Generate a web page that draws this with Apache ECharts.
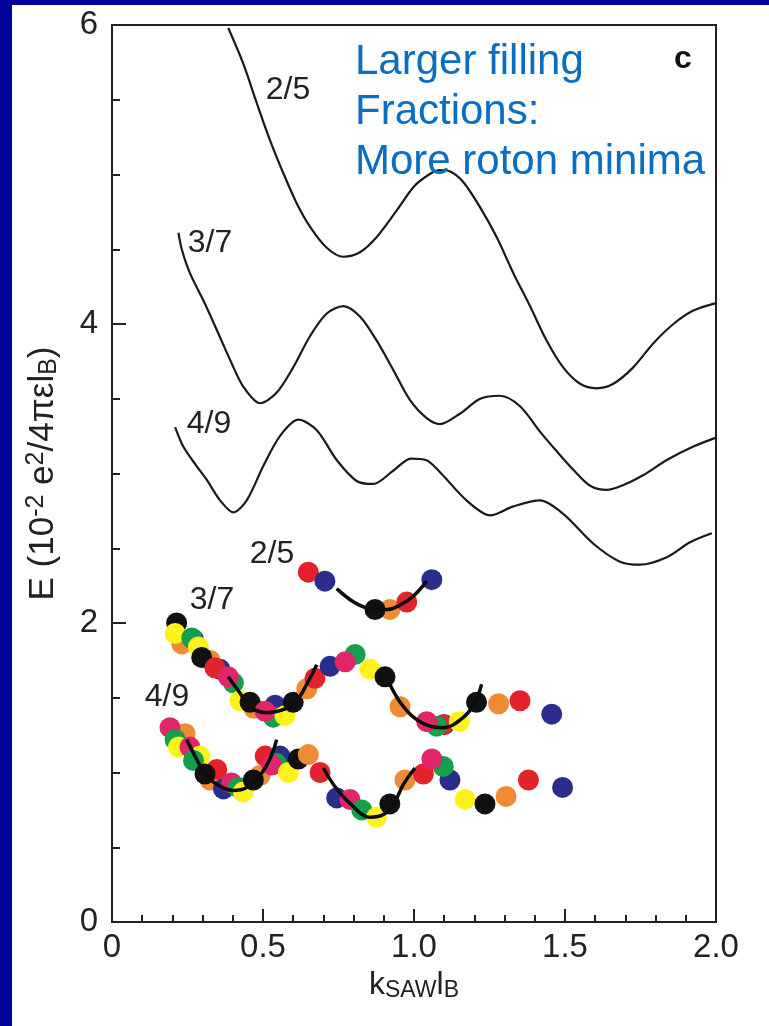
<!DOCTYPE html>
<html>
<head>
<meta charset="utf-8">
<script src="https://cdn.jsdelivr.net/npm/echarts@6/dist/echarts.min.js"></script>
<style>
  html, body { margin: 0; padding: 0; background: #ffffff; }
  #chart { width: 769px; height: 1026px; }
</style>
</head>
<body>
<div id="chart"></div>
<script>
// Theoretical dispersion curves E(k) for the three filling fractions
const theory25 = [[0.385,5.98],[0.435,5.74],[0.479,5.48],[0.523,5.23],[0.567,5.01],[0.611,4.81],[0.656,4.65],[0.711,4.51],[0.766,4.45],[0.821,4.48],[0.876,4.58],[0.943,4.76],[1.0,4.92],[1.05,5.00],[1.085,5.03],[1.12,5.02],[1.163,4.95],[1.219,4.78],[1.274,4.58],[1.329,4.34],[1.384,4.12],[1.439,3.89],[1.494,3.71],[1.55,3.60],[1.605,3.57],[1.66,3.60],[1.726,3.71],[1.792,3.87],[1.859,4.00],[1.925,4.09],[2.0,4.14]];
const theory37 = [[0.22,4.61],[0.231,4.50],[0.258,4.34],[0.302,4.16],[0.347,3.96],[0.391,3.76],[0.435,3.58],[0.49,3.47],[0.545,3.54],[0.60,3.71],[0.656,3.92],[0.711,4.07],[0.766,4.12],[0.821,4.05],[0.876,3.89],[0.932,3.69],[0.987,3.49],[1.042,3.37],[1.086,3.33],[1.152,3.40],[1.219,3.50],[1.285,3.52],[1.351,3.45],[1.417,3.28],[1.472,3.15],[1.53,3.02],[1.582,2.92],[1.638,2.89],[1.69,2.92],[1.76,2.99],[1.837,3.09],[1.925,3.18],[2.0,3.24]];
const theory49 = [[0.209,3.31],[0.236,3.18],[0.28,3.05],[0.313,2.96],[0.358,2.82],[0.402,2.74],[0.446,2.82],[0.501,3.05],[0.556,3.25],[0.617,3.36],[0.678,3.29],[0.744,3.09],[0.81,2.95],[0.865,2.93],[0.932,3.02],[0.99,3.10],[1.04,3.09],[1.09,3.00],[1.174,2.82],[1.252,2.72],[1.329,2.78],[1.417,2.82],[1.494,2.73],[1.594,2.53],[1.682,2.41],[1.748,2.39],[1.837,2.44],[1.914,2.54],[1.986,2.60]];

// Measured resonances: [k, E, run]; run picks the dot colour
const runs = ['red', 'navy', 'orange', 'black', 'yellow', 'green', 'pink'];
const meas25 = [[0.65,2.34,0],[0.705,2.28,1],[0.92,2.09,2],[0.871,2.09,3],[0.976,2.14,0],[1.059,2.29,1]];
const meas37 = [[0.214,2.00,3],[0.231,1.86,2],[0.209,1.93,4],[0.27,1.89,1],[0.264,1.90,5],[0.286,1.84,4],[0.325,1.75,2],[0.297,1.77,3],[0.358,1.69,1],[0.341,1.70,0],[0.402,1.60,5],[0.385,1.64,6],[0.424,1.48,4],[0.47,1.43,2],[0.457,1.47,3],[0.54,1.45,1],[0.534,1.37,5],[0.507,1.41,6],[0.573,1.38,4],[0.60,1.47,3],[0.645,1.56,2],[0.672,1.63,0],[0.722,1.71,1],[0.805,1.79,5],[0.772,1.74,6],[0.854,1.69,4],[0.904,1.64,3],[0.954,1.44,2],[1.10,1.32,1],[1.097,1.32,0],[1.075,1.31,5],[1.042,1.34,6],[1.15,1.34,4],[1.207,1.47,3],[1.28,1.46,2],[1.351,1.48,0],[1.456,1.39,1]];
const meas49 = [[0.242,1.26,2],[0.192,1.30,6],[0.209,1.22,5],[0.22,1.17,4],[0.258,1.17,6],[0.291,1.11,4],[0.27,1.08,5],[0.325,0.95,2],[0.347,1.02,0],[0.308,0.99,3],[0.369,0.89,1],[0.396,0.93,6],[0.418,0.90,5],[0.435,0.87,4],[0.49,0.98,2],[0.468,0.95,3],[0.507,1.11,0],[0.556,1.11,1],[0.545,1.06,5],[0.529,1.05,6],[0.584,1.00,4],[0.617,1.09,3],[0.65,1.12,2],[0.689,1.00,0],[0.744,0.83,1],[0.788,0.82,6],[0.827,0.75,5],[0.876,0.70,4],[0.92,0.79,3],[0.97,0.95,2],[1.031,0.99,0],[1.119,0.95,1],[1.097,1.04,5],[1.059,1.09,6],[1.169,0.82,4],[1.235,0.79,3],[1.305,0.84,2],[1.379,0.95,0],[1.492,0.90,1]];

// Local fits through the roton minima
const fit25 = [[0.744,2.23],[0.80,2.14],[0.843,2.10],[0.871,2.09],[0.91,2.09],[0.954,2.12],[0.998,2.18],[1.042,2.28]];
const fit37a = [[0.385,1.64],[0.424,1.53],[0.457,1.44],[0.512,1.40],[0.567,1.42],[0.611,1.48],[0.65,1.61],[0.678,1.72]];
const fit37b = [[0.92,1.59],[0.954,1.47],[0.998,1.37],[1.053,1.31],[1.097,1.30],[1.152,1.35],[1.197,1.45],[1.224,1.59]];
const fit49a = [[0.247,1.22],[0.28,1.09],[0.308,0.99],[0.347,0.92],[0.402,0.88],[0.446,0.90],[0.49,0.98],[0.523,1.09],[0.545,1.22]];
const fit49b = [[0.70,1.03],[0.744,0.89],[0.80,0.77],[0.854,0.70],[0.90,0.72],[0.935,0.80],[0.965,0.92],[1.003,1.03]];

const xTicks = ['0', '0.5', '1.0', '1.5', '2.0'];
const yTicks = ['0', '2', '4', '6'];

const runColor = {
  red: '#e3232c', navy: '#2b2d8c', orange: '#ef8a35', black: '#111111',
  yellow: '#fff21c', green: '#139f4b', pink: '#df2669'
};

const FONT = '"Liberation Sans", Arial, sans-serif';
const INK = '#222222';

function theoryLine(data) {
  return {
    type: 'line', data: data, smooth: 0.3, showSymbol: false, symbol: 'none',
    lineStyle: { color: '#1a1a1a', width: 2.2 }, z: 3, silent: true
  };
}
function fitLine(data) {
  return {
    type: 'line', data: data, smooth: 0.4, showSymbol: false, symbol: 'none',
    lineStyle: { color: '#0d0d0d', width: 3.5 }, z: 6, silent: true
  };
}
function dots(data) {
  return {
    type: 'scatter', data: data, symbolSize: 21, z: 5, silent: true,
    itemStyle: { opacity: 1, color: p => runColor[runs[p.data[2]]] }
  };
}

const chart = echarts.init(document.getElementById('chart'), null, { renderer: 'canvas' });

const labelStyle = (x, y, text) => ({
  type: 'text', x: x, y: y,
  style: { text: text, font: '32px ' + FONT, fill: INK, align: 'center', verticalAlign: 'middle' }
});

chart.setOption({
  backgroundColor: '#ffffff',
  animation: false,
  grid: { left: 112, right: 53, top: 25, bottom: 104, show: true, borderColor: '#222', borderWidth: 2, backgroundColor: 'transparent' },
  xAxis: {
    type: 'value', min: 0, max: 2, interval: 0.5,
    axisLine: { show: true, lineStyle: { color: '#222', width: 2 } },
    axisTick: { show: true, inside: true, length: 13, lineStyle: { color: '#222', width: 2 } },
    minorTick: { show: true, splitNumber: 5, length: 7, lineStyle: { color: '#222', width: 2 } },
    splitLine: { show: false },
    axisLabel: {
      color: INK, fontSize: 33, fontFamily: FONT, margin: 9,
      formatter: v => xTicks[Math.round(v / 0.5)]
    },
    name: '{b|k}{s|SAW}{b|l}{s|B}',
    nameLocation: 'middle', nameGap: 44,
    nameTextStyle: {
      rich: {
        b: { fontSize: 32, fontFamily: FONT, color: INK },
        s: { fontSize: 23, fontFamily: FONT, color: INK, verticalAlign: 'bottom', padding: [12, 0, 0, 0] }
      }
    }
  },
  yAxis: {
    type: 'value', min: 0, max: 6, interval: 2,
    axisLine: { show: true, lineStyle: { color: '#222', width: 2 } },
    axisTick: { show: true, inside: true, length: 14, lineStyle: { color: '#222', width: 2 } },
    minorTick: { show: true, splitNumber: 4, length: 8, lineStyle: { color: '#222', width: 2 } },
    splitLine: { show: false },
    axisLabel: {
      color: INK, fontSize: 33, fontFamily: FONT, margin: 14,
      formatter: v => yTicks[Math.round(v / 2)]
    },
    name: '{b|E (10}{p|-2}{b| e}{p|2}{b|/4πεl}{s|B}{b|)}',
    nameLocation: 'middle', nameGap: 50, nameRotate: 90,
    nameTextStyle: {
      rich: {
        b: { fontSize: 35, fontFamily: FONT, color: INK },
        p: { fontSize: 25, fontFamily: FONT, color: INK, verticalAlign: 'top', padding: [0, 0, 13, 0] },
        s: { fontSize: 25, fontFamily: FONT, color: INK, verticalAlign: 'bottom', padding: [13, 0, 0, 0] }
      }
    }
  },
  series: [
    theoryLine(theory25), theoryLine(theory37), theoryLine(theory49),
    dots(meas25), dots(meas37), dots(meas49),
    fitLine(fit25), fitLine(fit37a), fitLine(fit37b), fitLine(fit49a), fitLine(fit49b)
  ],
  graphic: [
    // dark blue frame around the panel
    { type: 'rect', shape: { x: 0, y: 0, width: 769, height: 5 }, style: { fill: '#00009a' }, z: 100 },
    { type: 'rect', shape: { x: 0, y: 0, width: 12, height: 1026 }, style: { fill: '#00009a' }, z: 100 },
    // annotation
    { type: 'text', x: 355, y: 62, style: { text: 'Larger filling', font: '42px ' + FONT, fill: '#0a6fc2', verticalAlign: 'middle' }, z: 10 },
    { type: 'text', x: 355, y: 112, style: { text: 'Fractions:', font: '42px ' + FONT, fill: '#0a6fc2', verticalAlign: 'middle' }, z: 10 },
    { type: 'text', x: 355, y: 162, style: { text: 'More roton minima', font: '42px ' + FONT, fill: '#0a6fc2', verticalAlign: 'middle' }, z: 10 },
    { type: 'text', x: 683, y: 59, style: { text: 'c', font: 'bold 32px ' + FONT, fill: '#111', align: 'center', verticalAlign: 'middle' }, z: 10 },
    // filling-fraction labels
    labelStyle(288, 90, '2/5'),
    labelStyle(210, 243, '3/7'),
    labelStyle(209, 424, '4/9'),
    labelStyle(272, 554, '2/5'),
    labelStyle(212, 600, '3/7'),
    labelStyle(167, 697, '4/9')
  ]
});
</script>
</body>
</html>
